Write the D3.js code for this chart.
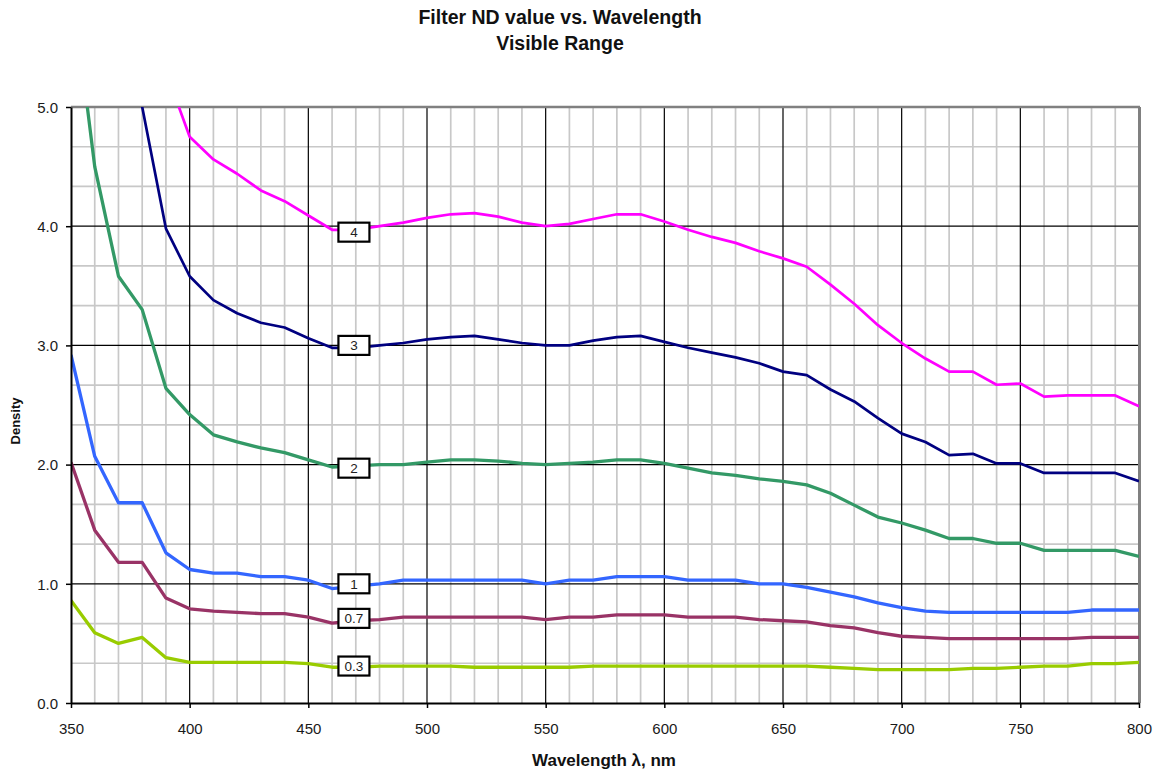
<!DOCTYPE html>
<html>
<head>
<meta charset="utf-8">
<script src="https://cdn.jsdelivr.net/npm/d3@7"></script>
<style>
  body { margin: 0; background: #fff; }
  svg { font-family: "Liberation Sans", Arial, sans-serif; }
</style>
</head>
<body>
<script>
// wavelength samples, nm
const wavelengths = [350, 360, 370, 380, 390, 400, 410, 420, 430, 440, 450, 460, 470, 480, 490,
  500, 510, 520, 530, 540, 550, 560, 570, 580, 590, 600, 610, 620, 630, 640, 650, 660, 670, 680,
  690, 700, 710, 720, 730, 740, 750, 760, 770, 780, 790, 800];

// density readings per filter (null = not measured / off chart)
const nd4 = [null, null, null, null, 5.30, 4.75, 4.56, 4.44, 4.30, 4.21, 4.09, 3.97, 3.97, 4.00, 4.03,
  4.07, 4.10, 4.11, 4.08, 4.03, 4.00, 4.02, 4.06, 4.10, 4.10, 4.04, 3.97, 3.91, 3.86, 3.79, 3.73, 3.66, 3.51, 3.35,
  3.17, 3.02, 2.89, 2.78, 2.78, 2.67, 2.68, 2.57, 2.58, 2.58, 2.58, 2.49];
const nd3 = [null, null, 6.00, 5.00, 3.98, 3.58, 3.38, 3.27, 3.19, 3.15, 3.06, 2.98, 2.98, 3.00, 3.02,
  3.05, 3.07, 3.08, 3.05, 3.02, 3.00, 3.00, 3.04, 3.07, 3.08, 3.03, 2.98, 2.94, 2.90, 2.85, 2.78, 2.75, 2.63, 2.53,
  2.39, 2.26, 2.19, 2.08, 2.09, 2.01, 2.01, 1.93, 1.93, 1.93, 1.93, 1.86];
const nd2 = [6.10, 4.50, 3.58, 3.30, 2.64, 2.42, 2.25, 2.19, 2.14, 2.10, 2.04, 1.98, 1.99, 2.00, 2.00,
  2.02, 2.04, 2.04, 2.03, 2.01, 2.00, 2.01, 2.02, 2.04, 2.04, 2.01, 1.97, 1.93, 1.91, 1.88, 1.86, 1.83, 1.76, 1.66,
  1.56, 1.51, 1.45, 1.38, 1.38, 1.34, 1.34, 1.28, 1.28, 1.28, 1.28, 1.23];
const nd1 = [2.92, 2.07, 1.68, 1.68, 1.26, 1.12, 1.09, 1.09, 1.06, 1.06, 1.03, 0.96, 0.98, 1.00, 1.03,
  1.03, 1.03, 1.03, 1.03, 1.03, 1.00, 1.03, 1.03, 1.06, 1.06, 1.06, 1.03, 1.03, 1.03, 1.00, 1.00, 0.97, 0.93, 0.89,
  0.84, 0.80, 0.77, 0.76, 0.76, 0.76, 0.76, 0.76, 0.76, 0.78, 0.78, 0.78];
const nd07 = [2.02, 1.45, 1.18, 1.18, 0.88, 0.79, 0.77, 0.76, 0.75, 0.75, 0.72, 0.67, 0.69, 0.70, 0.72,
  0.72, 0.72, 0.72, 0.72, 0.72, 0.70, 0.72, 0.72, 0.74, 0.74, 0.74, 0.72, 0.72, 0.72, 0.70, 0.69, 0.68, 0.65, 0.63,
  0.59, 0.56, 0.55, 0.54, 0.54, 0.54, 0.54, 0.54, 0.54, 0.55, 0.55, 0.55];
const nd03 = [0.86, 0.59, 0.50, 0.55, 0.38, 0.34, 0.34, 0.34, 0.34, 0.34, 0.33, 0.30, 0.30, 0.31, 0.31,
  0.31, 0.31, 0.30, 0.30, 0.30, 0.30, 0.30, 0.31, 0.31, 0.31, 0.31, 0.31, 0.31, 0.31, 0.31, 0.31, 0.31, 0.30, 0.29,
  0.28, 0.28, 0.28, 0.28, 0.29, 0.29, 0.30, 0.31, 0.31, 0.33, 0.33, 0.34];

const seriesNames = ["4", "3", "2", "1", "0.7", "0.3"];
const seriesColours = ["#ff00ff", "#000080", "#339966", "#3366ff", "#993366", "#99cc00"];
const labelWave = 469;                              // where the value boxes sit
const labelValues = [3.95, 3.0, 1.97, 1.0, 0.71, 0.31];

const xTicks = [350, 400, 450, 500, 550, 600, 650, 700, 750, 800];
const yTicks = [0, 1, 2, 3, 4, 5];

const W = 1162, H = 774;
const plotL = 71, plotR = 1139, plotT = 107, plotB = 703;

const svg = d3.select("body").append("svg").attr("width", W).attr("height", H);

const x = d3.scaleLinear().domain([350, 800]).range([plotL, plotR]);
const y = d3.scaleLinear().domain([0, 5]).range([plotB, plotT]);

// minor grid
const minorX = d3.range(350, 801, 10).filter(d => d % 50 !== 0);
const minorY = d3.range(0, 15).map(i => i / 3).filter(d => Math.abs(d - Math.round(d)) > 0.01);
svg.append("g").selectAll("line").data(minorX).join("line")
  .attr("x1", d => x(d)).attr("x2", d => x(d)).attr("y1", plotT).attr("y2", plotB)
  .attr("stroke", "#c8c8c8").attr("stroke-width", 1.7);
svg.append("g").selectAll("line").data(minorY).join("line")
  .attr("y1", d => y(d)).attr("y2", d => y(d)).attr("x1", plotL).attr("x2", plotR)
  .attr("stroke", "#c8c8c8").attr("stroke-width", 1.7);

// major grid
svg.append("g").selectAll("line").data(xTicks.slice(1, -1)).join("line")
  .attr("x1", d => x(d)).attr("x2", d => x(d)).attr("y1", plotT).attr("y2", plotB)
  .attr("stroke", "#000").attr("stroke-width", 1.2);
svg.append("g").selectAll("line").data(yTicks.slice(1, -1)).join("line")
  .attr("y1", d => y(d)).attr("y2", d => y(d)).attr("x1", plotL).attr("x2", plotR)
  .attr("stroke", "#000").attr("stroke-width", 1.2);

// plot border, top and right
svg.append("line").attr("x1", plotL).attr("x2", plotR + 1).attr("y1", plotT).attr("y2", plotT)
  .attr("stroke", "#808080").attr("stroke-width", 2.5);
svg.append("line").attr("x1", plotR + 0.5).attr("x2", plotR + 0.5).attr("y1", plotT).attr("y2", plotB)
  .attr("stroke", "#808080").attr("stroke-width", 3);

// curves
svg.append("clipPath").attr("id", "plot").append("rect")
  .attr("x", plotL).attr("y", plotT).attr("width", plotR - plotL).attr("height", plotB - plotT);

const allSeries = [nd4, nd3, nd2, nd1, nd07, nd03];
const line = d3.line()
  .defined(d => d[1] != null)
  .x(d => x(d[0])).y(d => y(d[1]));

svg.append("g").attr("clip-path", "url(#plot)")
  .selectAll("path").data(allSeries).join("path")
  .attr("d", s => line(wavelengths.map((w, i) => [w, s[i]])))
  .attr("fill", "none")
  .attr("stroke", (s, i) => seriesColours[i])
  .attr("stroke-width", (s, i) => i < 2 ? 2.7 : 3.3)
  .attr("stroke-linejoin", "round");

// axes
const xAxis = d3.axisBottom(x).tickValues(xTicks).tickSize(5).tickSizeOuter(0).tickFormat(d3.format("d"));
const yAxis = d3.axisLeft(y).tickValues(yTicks).tickSize(5).tickSizeOuter(0).tickFormat(d3.format(".1f"));

const gx = svg.append("g").attr("transform", "translate(0," + plotB + ")").call(xAxis);
const gy = svg.append("g").attr("transform", "translate(" + plotL + ",0)").call(yAxis);
[gx, gy].forEach(g => {
  g.select(".domain").attr("stroke", "#000").attr("stroke-width", 2);
  g.selectAll(".tick line").attr("stroke", "#000").attr("stroke-width", 1.5);
  g.selectAll("text").attr("font-size", 15).attr("fill", "#1a1a1a")
    .attr("font-family", "Liberation Sans, Arial, sans-serif");
});
gx.selectAll("text").attr("dy", null).attr("y", 31);
gy.selectAll("text").attr("x", -13).attr("dy", "0.35em");

// value boxes on the curves
const boxes = svg.append("g").selectAll("g").data(seriesNames).join("g")
  .attr("transform", (d, i) => "translate(" + x(labelWave) + "," + y(labelValues[i]) + ")");
boxes.append("rect")
  .attr("x", -15).attr("y", -9.5).attr("width", 31).attr("height", 19)
  .attr("fill", "#fff").attr("stroke", "#000").attr("stroke-width", 2.2);
boxes.append("text")
  .attr("text-anchor", "middle").attr("dy", "0.36em").attr("x", 0.5)
  .attr("font-size", 13.5).attr("fill", "#222")
  .text(d => d);

// titles
svg.append("text").attr("x", 560).attr("y", 24).attr("text-anchor", "middle")
  .attr("font-size", 19.5).attr("font-weight", "bold").attr("fill", "#111")
  .text("Filter ND value vs. Wavelength");
svg.append("text").attr("x", 560).attr("y", 50).attr("text-anchor", "middle")
  .attr("font-size", 19.5).attr("font-weight", "bold").attr("fill", "#111")
  .text("Visible Range");

svg.append("text").attr("x", 604).attr("y", 766).attr("text-anchor", "middle")
  .attr("font-size", 17).attr("font-weight", "bold").attr("fill", "#111")
  .text("Wavelength λ, nm");
svg.append("text").attr("transform", "translate(20,421) rotate(-90)").attr("text-anchor", "middle")
  .attr("font-size", 13).attr("font-weight", "bold").attr("fill", "#111")
  .text("Density");
</script>
</body>
</html>
